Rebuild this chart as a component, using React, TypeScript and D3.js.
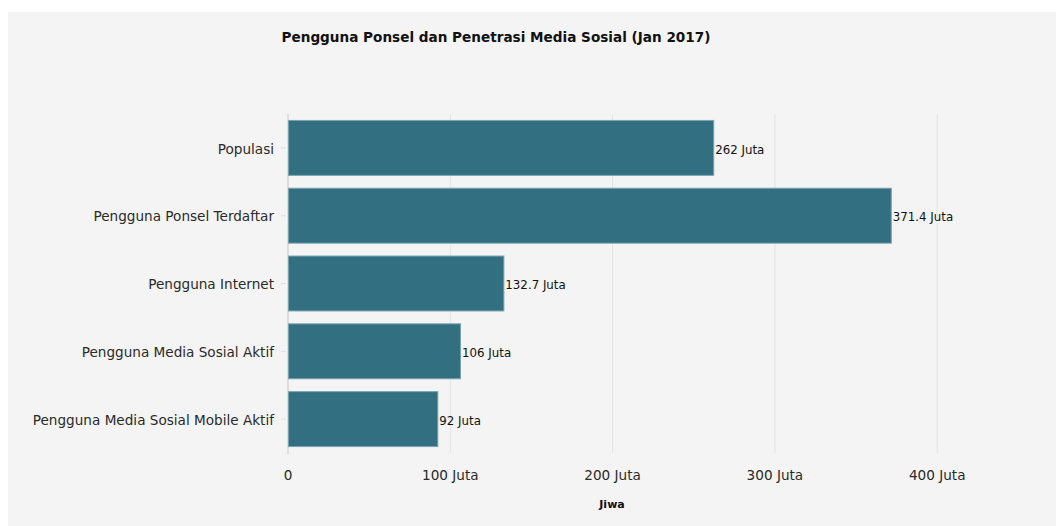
import React from "react";
import * as d3 from "d3";

const categories = [
  "Populasi",
  "Pengguna Ponsel Terdaftar",
  "Pengguna Internet",
  "Pengguna Media Sosial Aktif",
  "Pengguna Media Sosial Mobile Aktif",
];
const values = [262, 371.4, 132.7, 106, 92];
const valueLabels = ["262 Juta", "371.4 Juta", "132.7 Juta", "106 Juta", "92 Juta"];
const xTicks = [0, 100, 200, 300, 400];
const xTickLabels = ["0", "100 Juta", "200 Juta", "300 Juta", "400 Juta"];
const title = "Pengguna Ponsel dan Penetrasi Media Sosial (Jan 2017)";
const xTitle = "Jiwa";

const W = 1056;
const H = 526;
const FONT = "'DejaVu Sans', Verdana, sans-serif";

export default function App() {
  const x = d3.scaleLinear().domain([0, 455]).range([288, 288 + 455 * 1.623]);
  const y = d3.scaleBand().domain(categories).range([114, 453]).paddingInner(0.19).paddingOuter(0.095);

  return (
    <svg
      width={W}
      height={H}
      style={{ position: "absolute", left: 0, top: 0, display: "block" }}
    >
      <rect x={0} y={0} width={W} height={H} fill="#ffffff" />
      <rect x={8} y={12} width={W - 8} height={H - 12} fill="#f4f4f4" />
      <text
        x={496}
        y={37}
        dy="0.35em"
        textAnchor="middle"
        fontFamily={FONT}
        fontWeight="bold"
        fontSize={13.6}
        fill="#111"
      >
        {title}
      </text>
      {xTicks.slice(1).map((t) => (
        <line key={t} x1={x(t)} x2={x(t)} y1={114} y2={453} stroke="#e4e4e4" strokeWidth={1} />
      ))}
      <line x1={x(0)} x2={x(0)} y1={114} y2={454} stroke="#dedede" strokeWidth={2} />
      {categories.map((c, i) => (
        <g key={c}>
          <rect
            x={x(0) + 0.5}
            y={y(c)!}
            width={x(values[i]) - x(0)}
            height={y.bandwidth()}
            fill="#326f80"
            stroke="#7aa3b0"
            strokeWidth={1}
          />
          <text
            x={x(values[i]) + 2}
            y={y(c)! + y.bandwidth() / 2 + 1.5}
            dy="0.35em"
            fontFamily={FONT}
            fontSize={11.8}
            fill="#111"
          >
            {valueLabels[i]}
          </text>
          <line
            x1={281}
            x2={286}
            y1={y(c)! + y.bandwidth() / 2}
            y2={y(c)! + y.bandwidth() / 2}
            stroke="#e0e0e0"
          />
          <text
            x={274}
            y={y(c)! + y.bandwidth() / 2 + 1}
            dy="0.35em"
            textAnchor="end"
            fontFamily={FONT}
            fontSize={13.6}
            fill="#2a2a2a"
          >
            {c}
          </text>
        </g>
      ))}
      {xTicks.map((t, i) => (
        <text
          key={t}
          x={x(t)}
          y={475}
          dy="0.35em"
          textAnchor="middle"
          fontFamily={FONT}
          fontSize={13.6}
          fill="#2a2a2a"
        >
          {xTickLabels[i]}
        </text>
      ))}
      <text
        x={612}
        y={504}
        dy="0.35em"
        textAnchor="middle"
        fontFamily={FONT}
        fontWeight="bold"
        fontSize={11}
        fill="#111"
      >
        {xTitle}
      </text>
    </svg>
  );
}
